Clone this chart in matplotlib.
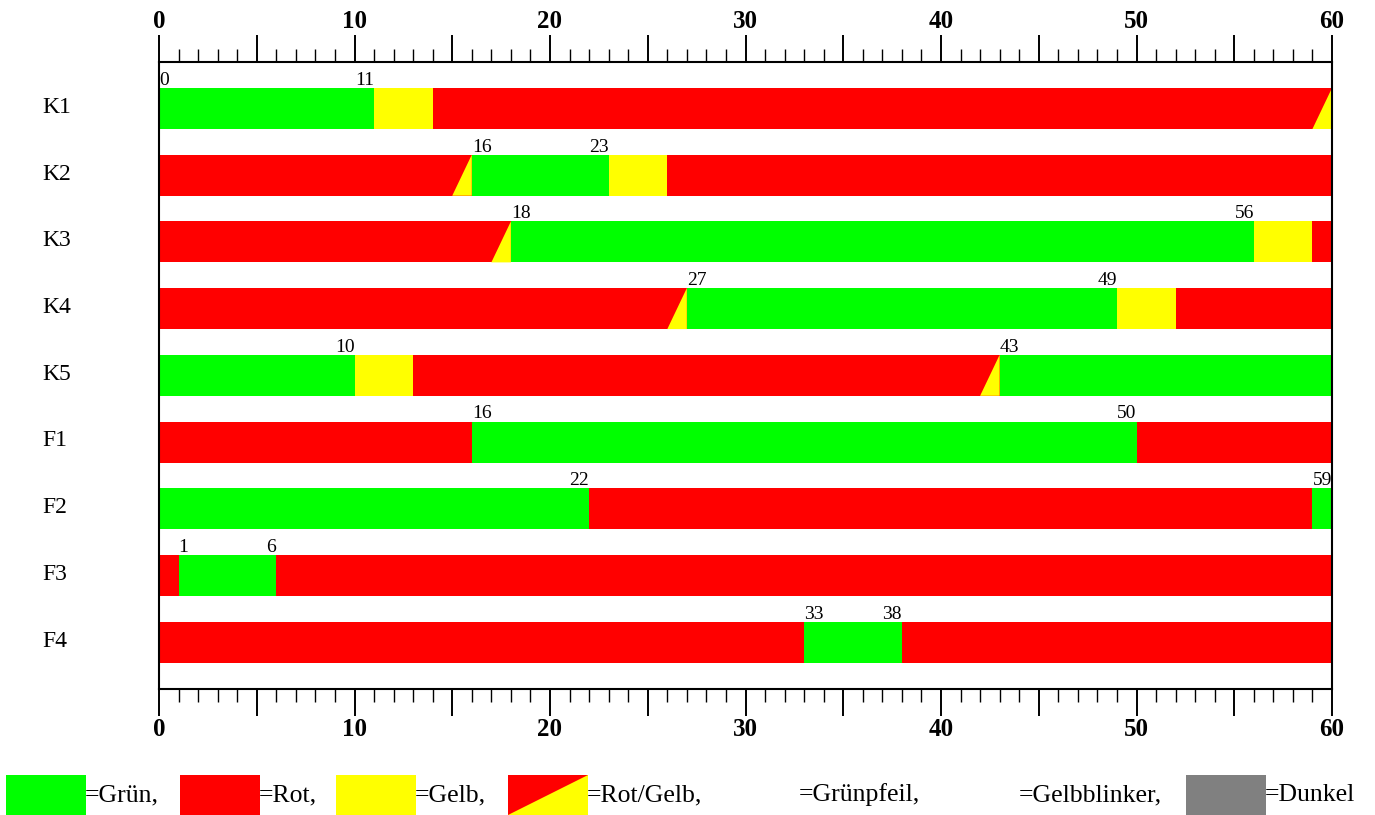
import matplotlib
matplotlib.use("Agg")
import matplotlib.pyplot as plt
from matplotlib.ticker import MultipleLocator, FuncFormatter
from matplotlib.patches import Rectangle, Polygon

plt.rcParams['font.family'] = ['Liberation Serif', 'DejaVu Serif']

# ---- data ----
row_labels = ['K1', 'K2', 'K3', 'K4', 'K5', 'F1', 'F2', 'F3', 'F4']
# segments per row: (start, end, state)  G=Grün, R=Rot, Y=Gelb, RY=Rot/Gelb
k1 = [(0, 11, 'G'), (11, 14, 'Y'), (14, 59, 'R'), (59, 60, 'RY')]
k2 = [(0, 15, 'R'), (15, 16, 'RY'), (16, 23, 'G'), (23, 26, 'Y'), (26, 60, 'R')]
k3 = [(0, 17, 'R'), (17, 18, 'RY'), (18, 56, 'G'), (56, 59, 'Y'), (59, 60, 'R')]
k4 = [(0, 26, 'R'), (26, 27, 'RY'), (27, 49, 'G'), (49, 52, 'Y'), (52, 60, 'R')]
k5 = [(0, 10, 'G'), (10, 13, 'Y'), (13, 42, 'R'), (42, 43, 'RY'), (43, 60, 'G')]
f1 = [(0, 16, 'R'), (16, 50, 'G'), (50, 60, 'R')]
f2 = [(0, 22, 'G'), (22, 59, 'R'), (59, 60, 'G')]
f3 = [(0, 1, 'R'), (1, 6, 'G'), (6, 60, 'R')]
f4 = [(0, 33, 'R'), (33, 38, 'G'), (38, 60, 'R')]
segments = [k1, k2, k3, k4, k5, f1, f2, f3, f4]

# labelled switching times per row: (value, kind) start = green begins, end = green ends
k1_marks = [(0, 'start'), (11, 'end')]
k2_marks = [(16, 'start'), (23, 'end')]
k3_marks = [(18, 'start'), (56, 'end')]
k4_marks = [(27, 'start'), (49, 'end')]
k5_marks = [(10, 'end'), (43, 'start')]
f1_marks = [(16, 'start'), (50, 'end')]
f2_marks = [(22, 'end'), (59, 'start')]
f3_marks = [(1, 'start'), (6, 'end')]
f4_marks = [(33, 'start'), (38, 'end')]
marks = [k1_marks, k2_marks, k3_marks, k4_marks, k5_marks,
         f1_marks, f2_marks, f3_marks, f4_marks]

legend_labels = ['=Grün,', '=Rot,', '=Gelb,', '=Rot/Gelb,', '=Grünpfeil,',
                 '=Gelbblinker,', '=Dunkel']
legend_states = ['G', 'R', 'Y', 'RY', 'none', 'none', 'D']

# ---- styles ----
colors = {'G': '#00ff00', 'R': '#ff0000', 'Y': '#ffff00', 'D': '#808080'}
W, H = 1375, 815
fig = plt.figure(figsize=(W / 100, H / 100), dpi=100)

x0px, x1px = 159, 1332
ytop, ybot = 62, 689
row0, pitch = 108.5, 66.7
ax = fig.add_axes([x0px / W, 1 - ybot / H, (x1px - x0px) / W, (ybot - ytop) / H])
ax.set_xlim(0, 60)
ax.set_ylim((ybot - row0) / pitch, -(row0 - ytop) / pitch)

bar_h = 41 / pitch
for i, segs in enumerate(segments):
    top = i - bar_h / 2
    bot = i + bar_h / 2
    for s, e, st in segs:
        if st == 'RY':
            ax.barh(i, e - s, left=s, height=bar_h, color=colors['R'], linewidth=0)
            ax.add_patch(Polygon([(s, bot), (e, top), (e, bot)], closed=True,
                                 facecolor=colors['Y'], edgecolor='none'))
        else:
            ax.barh(i, e - s, left=s, height=bar_h, color=colors[st], linewidth=0)
    for v, kind in marks[i]:
        ax.text(v, top - 3 / pitch, str(v), ha='left' if kind == 'start' else 'right',
                va='baseline', fontsize=14)
    ax.text(-(x0px - 42) / (x1px - x0px), i + 4.5 / pitch, row_labels[i],
            transform=ax.get_yaxis_transform(), ha='left', va='baseline', fontsize=17)

ax.set_yticks([])
for sp in ax.spines.values():
    sp.set_linewidth(1.5)
    sp.set_color('black')

ax.xaxis.set_major_locator(MultipleLocator(5))
ax.xaxis.set_minor_locator(MultipleLocator(1))
ax.xaxis.set_major_formatter(FuncFormatter(lambda v, p: f'{int(round(v))}' if round(v) % 10 == 0 else ''))
ax.tick_params(axis='x', which='both', direction='out', top=True, bottom=True,
               labeltop=True, labelbottom=True)
ax.tick_params(axis='x', which='major', length=19.5, width=1.4, pad=1.5,
               labelsize=18)
ax.tick_params(axis='x', which='minor', length=9.5, width=1.0)
for lab in ax.get_xticklabels():
    lab.set_fontweight('bold')

# ---- legend ----
leg = fig.add_axes([0, 0, 1, 40 / H])
leg.set_xlim(0, W)
leg.set_ylim(0, 40)
leg.axis('off')
box_x = [6, 180, 336, 508, 720, 940, 1186]
for bx, st, lab in zip(box_x, legend_states, legend_labels):
    if st == 'RY':
        leg.add_patch(Rectangle((bx, 0), 80, 40, facecolor=colors['R'], edgecolor='none'))
        leg.add_patch(Polygon([(bx, 0), (bx + 80, 40), (bx + 80, 0)], closed=True,
                              facecolor=colors['Y'], edgecolor='none'))
    elif st in colors:
        leg.add_patch(Rectangle((bx, 0), 80, 40, facecolor=colors[st], edgecolor='none'))
    leg.text(bx + 79, 20, lab, ha='left', va='center', fontsize=18.5)

fig.savefig('out.png', dpi=100)
